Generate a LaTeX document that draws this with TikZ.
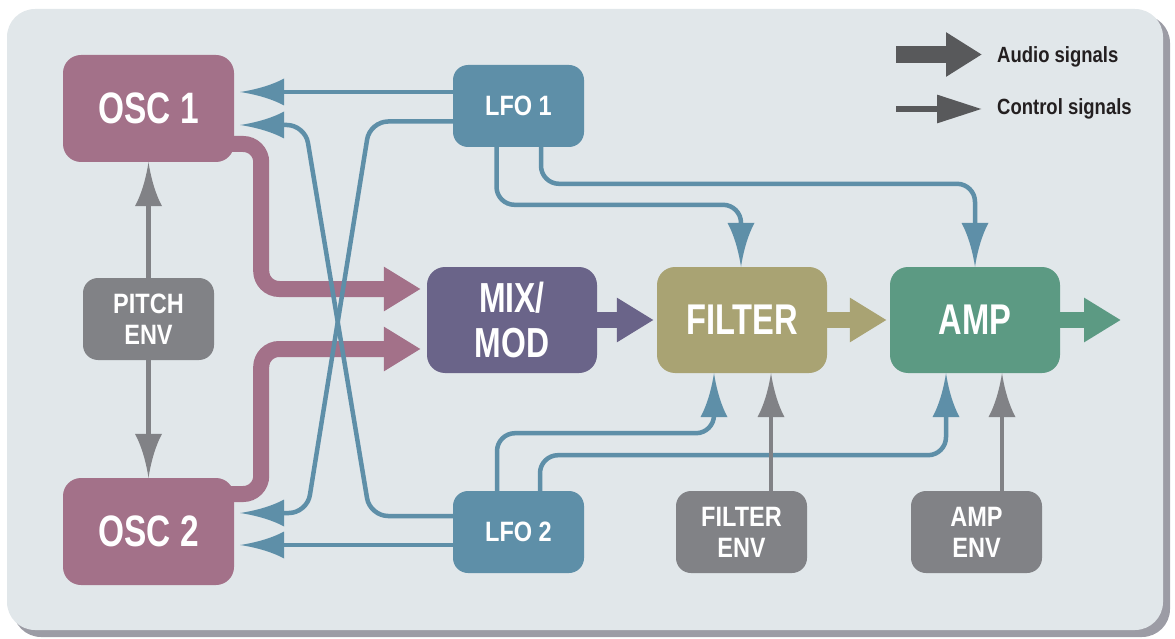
\documentclass[tikz,border=0pt]{standalone}
\usepackage{fontspec}
\setmainfont{Liberation Sans}
\newfontfamily\bigf{Liberation Sans}[FakeStretch=0.76]
\newfontfamily\smf{Liberation Sans}[FakeStretch=0.84]
\usetikzlibrary{arrows.meta}
\definecolor{bgc}{HTML}{E1E7EA}
\definecolor{shadowc}{HTML}{9C9CA5}
\definecolor{oscc}{HTML}{A37189}
\definecolor{lfoc}{HTML}{5E8FA8}
\definecolor{envc}{HTML}{818286}
\definecolor{mixc}{HTML}{6A6489}
\definecolor{filc}{HTML}{A9A373}
\definecolor{ampc}{HTML}{5C9A83}
\definecolor{legc}{HTML}{58595B}
\definecolor{txtc}{HTML}{231F20}
\pgfdeclarelayer{back0}
\pgfdeclarelayer{back1}
\pgfsetlayers{back0,back1,main}
\pgfdeclarearrow{
  name = Flare,
  parameters = {\the\pgfarrowlength,\the\pgfarrowwidth},
  setup code = {
    \pgfarrowssettipend{0pt}
    \pgfarrowssetlineend{-0.8\pgfarrowlength}
    \pgfarrowshullpoint{0pt}{0pt}
    \pgfarrowsupperhullpoint{-\pgfarrowlength}{0.5\pgfarrowwidth}
    \pgfarrowssavethe\pgfarrowlength
    \pgfarrowssavethe\pgfarrowwidth
  },
  drawing code = {
    \pgfpathmoveto{\pgfpointorigin}
    \pgfpathcurveto{\pgfpoint{-0.4\pgfarrowlength}{0.1\pgfarrowwidth}}{\pgfpoint{-0.75\pgfarrowlength}{0.28\pgfarrowwidth}}{\pgfpoint{-\pgfarrowlength}{0.5\pgfarrowwidth}}
    \pgfpathlineto{\pgfpoint{-\pgfarrowlength}{-0.5\pgfarrowwidth}}
    \pgfpathcurveto{\pgfpoint{-0.75\pgfarrowlength}{-0.28\pgfarrowwidth}}{\pgfpoint{-0.4\pgfarrowlength}{-0.1\pgfarrowwidth}}{\pgfpointorigin}
    \pgfpathclose
    \pgfusepathqfill
  },
  defaults = {length=44pt, width=27pt}
}
\begin{document}
\begin{tikzpicture}[x=1pt,y=-1pt,
  box/.style={rounded corners=18pt, inner sep=0pt, text=white, align=center,
    minimum width=170pt, minimum height=106pt,
    font=\bigf\bfseries\fontsize{43}{45}\selectfont},
  smallbox/.style={box, rounded corners=15pt, minimum width=131pt, minimum height=82pt,
    font=\smf\bfseries\fontsize{28}{31}\selectfont},
  audio/.style={line width=16pt, -{Triangle[length=37pt,width=42pt]}},
  ctrl/.style={line width=4.5pt, -{Flare[length=44pt,width=27pt]}, rounded corners=18pt},
  legtext/.style={anchor=base west, inner sep=0pt, text=txtc,
    font=\smf\bfseries\fontsize{22}{24}\selectfont}
]
\useasboundingbox (0,0) rectangle (1175,639);
\begin{pgfonlayer}{back0}
  \fill[shadowc, rounded corners=28pt] (13,15) rectangle (1170,637);
  \fill[bgc, rounded corners=28pt] (7,9) rectangle (1163,630);
\end{pgfonlayer}

% nodes
\node[box, fill=oscc, minimum width=171pt, minimum height=107pt, font=\bigf\bfseries\fontsize{44}{46}\selectfont] (osc1) at (148.5,108.5) {OSC 1};
\node[box, fill=oscc, minimum width=171pt, minimum height=107pt, font=\bigf\bfseries\fontsize{44}{46}\selectfont] (osc2) at (148.5,531.5) {OSC 2};
\node[smallbox, fill=envc] (pitch) at (148.5,319) {PITCH\\ENV};
\node[smallbox, fill=lfoc] (lfo1) at (518.5,106) {LFO 1};
\node[smallbox, fill=lfoc] (lfo2) at (518.5,532) {LFO 2};
\node[box, fill=mixc, font=\bigf\bfseries\fontsize{42}{45}\selectfont] (mix) at (512,320) {MIX/\\MOD};
\node[box, fill=filc] (filter) at (742,320) {FILTER};
\node[box, fill=ampc] (amp) at (975,320) {AMP};
\node[smallbox, fill=envc] (fenv) at (741.5,532) {FILTER\\ENV};
\node[smallbox, fill=envc] (aenv) at (976.5,532) {AMP\\ENV};
\coordinate (out) at (1121,320);

% audio connectors
\begin{pgfonlayer}{back1}
  \draw[audio, oscc, rounded corners=18pt, shorten >=6pt] ([xshift=-15pt,yshift=-35.5pt]osc1.east) -- ++(42,0) |- ([yshift=31pt]mix.west);
  \draw[audio, oscc, rounded corners=18pt, shorten >=6pt] ([xshift=-15pt,yshift=37.5pt]osc2.east) -- ++(42,0) |- ([yshift=-29pt]mix.west);
\end{pgfonlayer}
\draw[audio, mixc, shorten >=3pt] (mix.east) -- (filter.west);
\draw[audio, filc, shorten >=3pt] (filter.east) -- (amp.west);
\draw[audio, ampc] (amp.east) -- (out);

% control connectors
\draw[ctrl, lfoc, shorten >=6pt] ([yshift=14pt]lfo1.west) -- ([yshift=16.5pt]osc1.east);
\draw[ctrl, lfoc, shorten >=6pt] ([yshift=-15.5pt]lfo1.west) -- (370,121.5) -- (307,513) -- ([yshift=18.5pt]osc2.east);
\draw[ctrl, lfoc, shorten >=6pt] ([yshift=16pt]lfo2.west) -- (370,516) -- (305,125) -- ([yshift=-16.5pt]osc1.east);
\draw[ctrl, lfoc, shorten >=6pt] ([yshift=-13pt]lfo2.west) -- ([yshift=-13.5pt]osc2.east);
\draw[ctrl, lfoc] ([xshift=-22pt]lfo1.south) |- ([xshift=-1pt,yshift=62pt]filter.north) -- ([xshift=-1pt]filter.north);
\draw[ctrl, lfoc] ([xshift=22.5pt]lfo1.south) |- ([yshift=83pt]amp.north) -- (amp.north);
\draw[ctrl, lfoc] ([xshift=-21.5pt]lfo2.north) |- ([xshift=-28pt,yshift=-60pt]filter.south) -- ([xshift=-28pt]filter.south);
\draw[ctrl, lfoc] ([xshift=21.5pt]lfo2.north) |- ([xshift=-29pt,yshift=-82pt]amp.south) -- ([xshift=-29pt]amp.south);
\draw[ctrl, envc] ([xshift=29.5pt]fenv.north) -- ([xshift=29pt]filter.south);
\draw[ctrl, envc] ([xshift=25.5pt]aenv.north) -- ([xshift=27pt]amp.south);
\draw[ctrl, envc] (pitch.north) -- (osc1.south);
\draw[ctrl, envc] (pitch.south) -- (osc2.north);

% legend
\coordinate (la1) at (896,54.5);
\coordinate (la2) at (982,54.5);
\coordinate (lc1) at (896,109);
\coordinate (lc2) at (982,109);
\draw[legc, line width=17pt, -{Triangle[length=36pt,width=42pt]}] (la1) -- (la2);
\draw[legc, line width=6pt, -{Triangle[length=45pt,width=27pt]}] (lc1) -- (lc2);
\node[legtext] (audiolbl) at (997,63) {Audio signals};
\node[legtext] (ctrllbl) at (997,115) {Control signals};
\end{tikzpicture}
\end{document}
